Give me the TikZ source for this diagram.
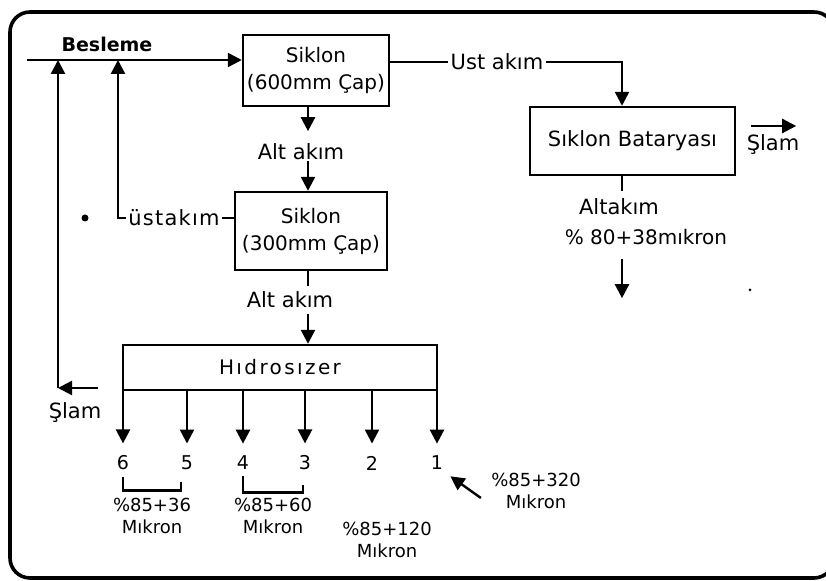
\documentclass[tikz,border=0pt]{standalone}
\usepackage{fontspec}
\setmainfont{DejaVu Sans}
\newfontfamily\aralikli[LetterSpace=12]{DejaVu Sans}
\newfontfamily\azaralikli[LetterSpace=6]{DejaVu Sans}
\usepackage{tikz}
\usetikzlibrary{positioning,arrows.meta,calc}
\tikzset{
  kutu/.style   = {rectangle, draw, line width=1.2pt, align=center, inner sep=2pt,
                   font=\fontsize{10}{13.5}\selectfont},
  akis/.style   = {-{Triangle[length=7pt,width=7pt]}, line width=1.2pt},
  hat/.style    = {line width=1.2pt},
  etiket/.style = {font=\fontsize{10.5}{12}\selectfont, inner sep=1pt},
  kucuk/.style  = {font=\fontsize{9}{11}\selectfont, align=center, inner sep=1pt},
  sayi/.style   = {font=\fontsize{9.5}{11}\selectfont, inner sep=1pt},
  cerceve/.style = {line width=1.8pt, rounded corners=10pt},
}

\begin{document}
\begin{tikzpicture}[x=0.5pt,y=-0.5pt]
  \useasboundingbox (0,0) rectangle (826,581);
  \draw[cerceve] (10,12) rectangle (834,578);

  % siklonlar
  \node[kutu, minimum width=71pt, minimum height=35.5pt] (siklonA) at (316,70.5) {Siklon\\(600mm Çap)};
  \node[kutu, minimum width=76pt, minimum height=39pt] (siklonB) at (311,231) {Siklon\\(300mm Çap)};
  \node[kutu, minimum width=102.5pt, minimum height=34pt, font=\fontsize{10.5}{13}\selectfont] (batarya) at (632.5,141) {Sıklon Bataryası};
  \node[kutu, minimum width=157pt, minimum height=22.5pt] (hidro) at (280,367.5) {\aralikli Hıdrosızer};

  \coordinate (omurga) at (308,0);
  \coordinate (sag) at (622,0);

  % besleme hatti
  \coordinate (besle) at (27,60);
  \node[etiket, font=\fontsize{9.5}{12}\selectfont\bfseries] (besleme) at (107,44) {Besleme};
  \draw[akis] (besle) -- (besle -| siklonA.west);

  % geri donusler
  \coordinate (donusA) at (58,388);
  \coordinate (slamL) at (98,388);
  \node[etiket] (slamsol) at (75,413) {Şlam};
  \draw[akis] (slamL) -- (donusA);
  \draw[akis] (donusA) -- (donusA |- besle);
  \coordinate (donusB) at (118,218);
  \node[etiket, font=\azaralikli\fontsize{10.5}{12}\selectfont] (ustakim) at (174,218) {üstakım};
  \draw[hat] (siklonB.west |- ustakim) -- (ustakim.east);
  \draw[akis] (ustakim.west) -- (donusB) -- (donusB |- besle);
  \fill (85,218) circle (3.5);

  % alt akimlar
  \node[etiket] (altA) at (301,152) {Alt akım};
  \draw[akis] (siklonA.south -| omurga) -- ++(0,24);
  \draw[akis] (siklonB.north -| omurga) ++(0,-30) -- (siklonB.north -| omurga);
  \node[etiket] (altB) at (290,300) {Alt akım};
  \draw[hat] (siklonB.south -| omurga) -- ++(0,15);
  \draw[akis] (hidro.north -| omurga) ++(0,-30) -- (hidro.north -| omurga);

  % ust akim -> batarya
  \node[etiket] (ustR) at (497,62) {Ust akım};
  \draw[hat] (siklonA.east |- ustR) -- (ustR.west);
  \draw[akis] (ustR.east) -| (batarya.north -| sag);
  \draw[akis] (batarya.east) ++(15,-15) -- ++(45,0);
  \node[etiket] (slamsag) at (773,145) {Şlam};
  \draw[hat] (batarya.south -| sag) -- ++(0,15);
  \node[etiket] (altC) at (619,207) {Altakım};
  \node[etiket, font=\fontsize{10}{12}\selectfont] (yuzdeC) at (646,237) {\% 80+38mıkron};
  \draw[akis] (batarya.south -| sag) ++(0,83) -- ++(0,39);
  \fill (750,290) circle (1.5);

  % hidrosizer cikislari
  \foreach \x/\n/\ad in {123/6/c6,187/5/c5,243/4/c4,305/3/c3,372/2/c2,437/1/c1}{
    \node[sayi] (\ad) at (\x,463) {\n};
    \draw[akis, shorten >=5pt] (hidro.south -| \ad) -- (\ad.north);
  }
  \draw[hat] ($(c6.south)+(0,4)$) -- ++(0,14) -| ($(c5.south)+(-6,10)$);
  \draw[hat] ($(c4.south)+(0,4)$) -- ++(0,16) -| ($(c3.south)+(-2,12)$);

  \node[kucuk] (y65) at (152,516) {\%85+36\\Mıkron};
  \node[kucuk] (y43) at (273,516) {\%85+60\\Mıkron};
  \node[kucuk] (y2) at (387,540) {\%85+120\\Mıkron};
  \node[kucuk] (y1) at (536,491) {\%85+320\\Mıkron};
  \draw[akis] ([shift={(-8,7)}]y1.west) -- ([shift={(5,4)}]c1.south east);
\end{tikzpicture}
\end{document}
